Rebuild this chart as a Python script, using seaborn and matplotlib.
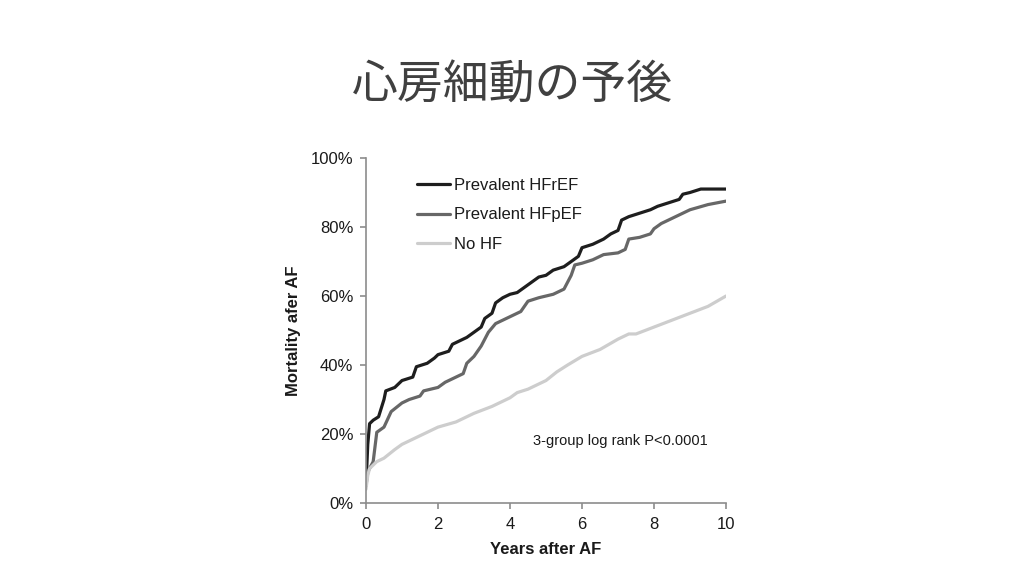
import numpy as np
import pandas as pd
import matplotlib
matplotlib.use("Agg")
import matplotlib.pyplot as plt
import seaborn as sns

sns.set_style("white")
plt.rcParams['font.family'] = ['Liberation Sans', 'Noto Sans CJK JP', 'DejaVu Sans']

title = "心房細動の予後"
series_names = ["Prevalent HFrEF", "Prevalent HFpEF", "No HF"]

hfref_t = [0, 0.05, 0.1, 0.2, 0.35, 0.5, 0.55, 0.8, 1.0, 1.3, 1.4, 1.7, 1.9, 2.0, 2.3, 2.4,
           2.6, 2.8, 3.0, 3.2, 3.3, 3.5, 3.6, 3.8, 4.0, 4.2, 4.4, 4.6, 4.8, 5.0, 5.2, 5.5,
           5.7, 5.9, 6.0, 6.3, 6.6, 6.8, 7.0, 7.1, 7.3, 7.6, 7.9, 8.1, 8.4, 8.7, 8.8, 9.0, 9.3, 10]
hfref_v = [5, 17, 23, 24, 25, 30, 32.5, 33.5, 35.5, 36.5, 39.5, 40.5, 42, 43, 44, 46,
           47, 48, 49.5, 51, 53.5, 55, 58, 59.5, 60.5, 61, 62.5, 64, 65.5, 66, 67.5, 68.5,
           70, 71.5, 74, 75, 76.5, 78, 79, 82, 83, 84, 85, 86, 87, 88, 89.5, 90, 91, 91]

hfpef_t = [0, 0.05, 0.1, 0.2, 0.3, 0.5, 0.7, 1.0, 1.2, 1.5, 1.6, 2.0, 2.2, 2.5, 2.7, 2.8,
           3.0, 3.2, 3.4, 3.6, 3.8, 4.0, 4.3, 4.5, 4.8, 5.2, 5.5, 5.7, 5.8, 6.0, 6.3, 6.6,
           7.0, 7.2, 7.3, 7.6, 7.9, 8.0, 8.2, 8.5, 8.8, 9.0, 9.5, 10]
hfpef_v = [5, 9, 10, 12, 20.5, 22, 26.5, 29, 30, 31, 32.5, 33.5, 35, 36.5, 37.5, 40.5,
           42.5, 45.5, 49.5, 52, 53, 54, 55.5, 58.5, 59.5, 60.5, 62, 66, 69, 69.5, 70.5, 72,
           72.5, 73.5, 76.5, 77, 78, 79.5, 81, 82.5, 84, 85, 86.5, 87.5]

nohf_t = [0, 0.05, 0.1, 0.3, 0.5, 0.8, 1.0, 1.3, 1.6, 2.0, 2.5, 3.0, 3.5, 4.0, 4.2, 4.5,
          5.0, 5.3, 5.6, 6.0, 6.5, 7.0, 7.3, 7.5, 8.0, 8.5, 9.0, 9.5, 10]
nohf_v = [4, 8, 10, 12, 13, 15.5, 17, 18.5, 20, 22, 23.5, 26, 28, 30.5, 32, 33,
          35.5, 38, 40, 42.5, 44.5, 47.5, 49, 49, 51, 53, 55, 57, 60]

frames = []
for name, t, v in zip(series_names, [hfref_t, hfpef_t, nohf_t], [hfref_v, hfpef_v, nohf_v]):
    frames.append(pd.DataFrame({"t": t, "v": v, "group": name}))
df = pd.concat(frames, ignore_index=True)

fig = plt.figure(figsize=(10.24, 5.76), dpi=100)
ax = fig.add_axes([0.3574, 0.1267, 0.3516, 0.599])

palette = {"Prevalent HFrEF": "#1e1e1e", "Prevalent HFpEF": "#676767", "No HF": "#cdcdcd"}
sns.lineplot(data=df, x="t", y="v", hue="group", hue_order=series_names, palette=palette,
             linewidth=2.3, ax=ax, estimator=None, sort=False)

ax.set_xlim(0, 10)
ax.set_ylim(0, 100)
ax.set_xticks([0, 2, 4, 6, 8, 10])
ax.set_yticks([0, 20, 40, 60, 80, 100])
ax.set_yticklabels([f"{v}%" for v in [0, 20, 40, 60, 80, 100]])
for s in ["top", "right"]:
    ax.spines[s].set_visible(False)
for s in ["left", "bottom"]:
    ax.spines[s].set_color("#8c8c8c")
    ax.spines[s].set_linewidth(1.2)
ax.tick_params(axis="both", which="both", direction="out", length=4, width=1.2,
               color="#8c8c8c", labelsize=12, labelcolor="#1a1a1a", left=True, bottom=True)
ax.tick_params(axis="y", pad=5)
ax.tick_params(axis="x", pad=6)
ax.set_xlabel("Years after AF", fontsize=12, fontweight="bold", color="#1a1a1a", labelpad=7)
ax.set_ylabel("Mortality afer AF", fontsize=12, fontweight="bold", color="#1a1a1a", labelpad=7)

leg = ax.legend(loc="upper left", bbox_to_anchor=(0.1, 0.985), frameon=False, fontsize=12,
                handlelength=2.0, handletextpad=0.25, labelspacing=0.85)
for line in leg.get_lines():
    line.set_linewidth(2.3)
for txt in leg.get_texts():
    txt.set_color("#1a1a1a")

ax.text(0.95, 0.18, "3-group log rank P<0.0001", transform=ax.transAxes, ha="right",
        va="center", fontsize=10.5, color="#1a1a1a")

fig.text(0.5, 0.852, title, ha="center", va="center", fontsize=33, color="#404040",
         family=["Noto Sans CJK JP", "DejaVu Sans"])

fig.savefig("out.png", dpi=100)
